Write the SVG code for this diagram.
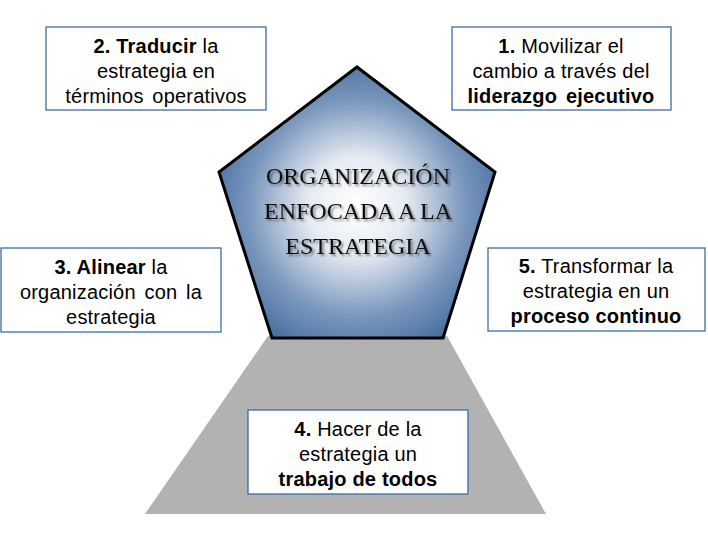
<svg xmlns="http://www.w3.org/2000/svg" width="708" height="536" viewBox="0 0 708 536">
<defs>
<radialGradient id="pg" gradientUnits="userSpaceOnUse" cx="357" cy="210" r="165" fx="357" fy="205">
<stop offset="0" stop-color="#ffffff"/>
<stop offset="0.3" stop-color="#e6ebf2"/>
<stop offset="0.65" stop-color="#7b98be"/>
<stop offset="1" stop-color="#3a6396"/>
</radialGradient>
<filter id="sh" x="-10%" y="-10%" width="120%" height="130%">
<feGaussianBlur in="SourceAlpha" stdDeviation="0.8"/>
<feOffset dx="1.5" dy="1.5" result="b"/>
<feComponentTransfer><feFuncA type="linear" slope="0.45"/></feComponentTransfer>
<feMerge><feMergeNode/><feMergeNode in="SourceGraphic"/></feMerge>
</filter>
</defs>
<style>
.box{fill:#ffffff;stroke:#3a6ea5;stroke-width:1.3}
.t{font-family:"Liberation Sans",Arial,sans-serif;font-size:20px;fill:#000;text-anchor:middle;letter-spacing:0.2px}
.b{font-weight:bold}
.c{font-family:"Liberation Serif","Times New Roman",serif;font-size:24px;fill:#111;text-anchor:middle}
</style>
<rect width="708" height="536" fill="#ffffff"/>
<g id="base">
<polygon points="268,336 447,336 546,514 145,514" fill="#b2b2b2"/>
</g>
<g id="center">
<polygon points="357,67 495,172 443,338 272,338 219,172" fill="url(#pg)" stroke="#000" stroke-width="3" stroke-linejoin="miter"/>
<g filter="url(#sh)">
<text class="c" x="358" y="184">ORGANIZACIÓN</text>
<text class="c" x="358" y="219">ENFOCADA A LA</text>
<text class="c" x="358" y="254">ESTRATEGIA</text>
</g>
</g>
<g id="n2">
<rect class="box" x="46" y="27" width="220" height="83"/>
<text class="t" x="156" y="53"><tspan class="b">2. Traducir</tspan> la</text>
<text class="t" x="156" y="78">estrategia en</text>
<text class="t" x="156" y="103" word-spacing="3">términos operativos</text>
</g>
<g id="n1">
<rect class="box" x="452" y="27" width="219" height="83"/>
<text class="t" x="561" y="53"><tspan class="b">1.</tspan> Movilizar el</text>
<text class="t" x="561" y="78">cambio a través del</text>
<text class="t b" x="561" y="103" word-spacing="3">liderazgo ejecutivo</text>
</g>
<g id="n3">
<rect class="box" x="1" y="248" width="220" height="84"/>
<text class="t" x="111" y="274"><tspan class="b">3. Alinear</tspan> la</text>
<text class="t" x="111" y="299" word-spacing="3">organización con la</text>
<text class="t" x="111" y="324">estrategia</text>
</g>
<g id="n5">
<rect class="box" x="488" y="248" width="217" height="83"/>
<text class="t" x="596" y="273"><tspan class="b">5.</tspan> Transformar  la</text>
<text class="t" x="596" y="298">estrategia en un</text>
<text class="t b" x="596" y="323">proceso continuo</text>
</g>
<g id="n4">
<rect class="box" x="248" y="410" width="220" height="84"/>
<text class="t" x="358" y="436"><tspan class="b">4.</tspan> Hacer de la</text>
<text class="t" x="358" y="461">estrategia un</text>
<text class="t b" x="358" y="486">trabajo de todos</text>
</g>
<g id="connectors"></g>
</svg>
